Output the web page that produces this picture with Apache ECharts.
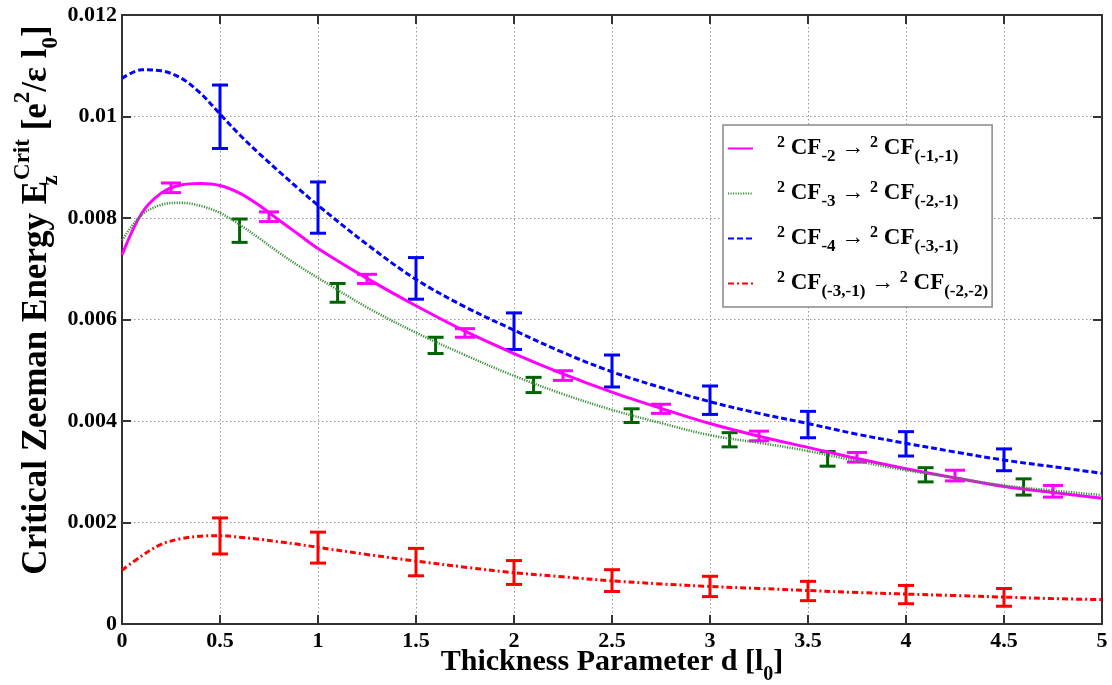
<!DOCTYPE html>
<html>
<head>
<meta charset="utf-8">
<script src="https://cdn.jsdelivr.net/npm/echarts@6/dist/echarts.min.js"></script>
<style>
  html, body { margin: 0; padding: 0; background: #fff; overflow: hidden; }
  #chart { width: 1112px; height: 685px; }
</style>
</head>
<body>
<div id="chart"></div>
<script>
// Thickness parameter d [l0] at which the model curves are sampled
const thickness = [0, 0.1, 0.2, 0.3, 0.4, 0.5, 0.6, 0.7, 0.8, 0.9, 1, 1.25, 1.5, 1.75, 2, 2.25, 2.5, 2.75, 3, 3.25, 3.5, 3.75, 4, 4.25, 4.5, 4.75, 5];

// Critical Zeeman energy curves [e^2/(eps l0)]
const curveCF2 = [0.00727, 0.00809, 0.00849, 0.00865, 0.00868, 0.00864, 0.00849, 0.00825, 0.00796, 0.00768, 0.00740, 0.00681, 0.00627, 0.00577, 0.00533, 0.00493, 0.00457, 0.00425, 0.00395, 0.00370, 0.00348, 0.00326, 0.00306, 0.00288, 0.00271, 0.00259, 0.00248];
const curveCF3 = [0.00756, 0.00806, 0.00826, 0.00830, 0.00824, 0.00810, 0.00787, 0.00760, 0.00732, 0.00706, 0.00682, 0.00624, 0.00574, 0.00530, 0.00489, 0.00453, 0.00422, 0.00396, 0.00372, 0.00357, 0.00341, 0.00321, 0.00303, 0.00288, 0.00273, 0.00263, 0.00254];
const curveCF4 = [0.01075, 0.01092, 0.01090, 0.01076, 0.01046, 0.01005, 0.00964, 0.00927, 0.00892, 0.00858, 0.00825, 0.00748, 0.00679, 0.00625, 0.00579, 0.00535, 0.00497, 0.00466, 0.00438, 0.00415, 0.00395, 0.00374, 0.00356, 0.00339, 0.00323, 0.00310, 0.00297];
const curveCF31 = [0.00106, 0.00134, 0.00157, 0.00168, 0.00173, 0.00174, 0.00171, 0.00167, 0.00162, 0.00157, 0.00151, 0.00137, 0.00124, 0.00112, 0.00101, 0.00093, 0.00085, 0.00079, 0.00074, 0.00070, 0.00066, 0.00062, 0.00059, 0.00056, 0.00053, 0.00050, 0.00048];

// Finite-size estimates with error ranges (d, lower, upper)
const errCF2X = [0.25, 0.75, 1.25, 1.75, 2.25, 2.75, 3.25, 3.75, 4.25, 4.75];
const errCF2Lo = [0.00850, 0.00793, 0.00671, 0.00565, 0.00480, 0.00415, 0.00361, 0.00319, 0.00282, 0.00250];
const errCF2Hi = [0.00869, 0.00812, 0.00689, 0.00582, 0.00499, 0.00433, 0.00380, 0.00338, 0.00303, 0.00273];

const errCF3X = [0.6, 1.1, 1.6, 2.1, 2.6, 3.1, 3.6, 4.1, 4.6];
const errCF3Lo = [0.00752, 0.00634, 0.00533, 0.00456, 0.00397, 0.00349, 0.00311, 0.00280, 0.00254];
const errCF3Hi = [0.00798, 0.00671, 0.00565, 0.00486, 0.00424, 0.00377, 0.00340, 0.00308, 0.00286];

const errCF4X = [0.5, 1, 1.5, 2, 2.5, 3, 3.5, 4, 4.5];
const errCF4Lo = [0.00937, 0.00770, 0.00640, 0.00541, 0.00467, 0.00413, 0.00367, 0.00331, 0.00302];
const errCF4Hi = [0.01062, 0.00871, 0.00722, 0.00613, 0.00530, 0.00469, 0.00419, 0.00379, 0.00345];

const errCF31X = [0.5, 1, 1.5, 2, 2.5, 3, 3.5, 4, 4.5];
const errCF31Lo = [0.00138, 0.00120, 0.00095, 0.00078, 0.00064, 0.00054, 0.00046, 0.00040, 0.00035];
const errCF31Hi = [0.00209, 0.00181, 0.00149, 0.00125, 0.00107, 0.00094, 0.00084, 0.00076, 0.00070];

// Axis tick labels
const xTickLabels = ['0', '0.5', '1', '1.5', '2', '2.5', '3', '3.5', '4', '4.5', '5'];
const yTickLabels = ['0', '0.002', '0.004', '0.006', '0.008', '0.01', '0.012'];

// Legend entries (rich-text markup for super/subscripts)
const seriesNames = ['CF-2', 'CF-3', 'CF-4', 'CF(-3,-1)'];
const legendLabels = [
  '{g| }{sup|2}{a| CF}{sub|-2}{a| → }{sup|2}{a| CF}{sub|(-1,-1)}',
  '{g| }{sup|2}{a| CF}{sub|-3}{a| → }{sup|2}{a| CF}{sub|(-2,-1)}',
  '{g| }{sup|2}{a| CF}{sub|-4}{a| → }{sup|2}{a| CF}{sub|(-3,-1)}',
  '{g| }{sup|2}{a| CF}{sub|(-3,-1)}{a| → }{sup|2}{a| CF}{sub|(-2,-2)}'
];

const FONT = 'Liberation Serif';
const AXIS_COLOR = '#333';

const pairs = (xs, ys) => xs.map((x, i) => [x, ys[i]]);
const triples = (xs, lo, hi) => xs.map((x, i) => [x, lo[i], hi[i]]);

function errorBars(name, xs, lo, hi, color, capHalf) {
  return {
    name: name + ' err',
    type: 'custom',
    data: triples(xs, lo, hi),
    encode: { x: 0, y: [1, 2] },
    z: 3,
    renderItem(params, api) {
      const x = api.value(0);
      const pLo = api.coord([x, api.value(1)]);
      const pHi = api.coord([x, api.value(2)]);
      const st = { stroke: color, lineWidth: 3, lineCap: 'butt' };
      return {
        type: 'group',
        children: [
          { type: 'line', shape: { x1: pLo[0], y1: pLo[1], x2: pHi[0], y2: pHi[1] }, style: st },
          { type: 'line', shape: { x1: pLo[0] - capHalf, y1: pLo[1], x2: pLo[0] + capHalf, y2: pLo[1] }, style: st },
          { type: 'line', shape: { x1: pHi[0] - capHalf, y1: pHi[1], x2: pHi[0] + capHalf, y2: pHi[1] }, style: st }
        ]
      };
    }
  };
}

function curve(name, ys, color, width, dash) {
  return {
    name: name,
    type: 'line',
    data: pairs(thickness, ys),
    smooth: 0.35,
    symbol: 'none',
    showSymbol: false,
    z: 4,
    lineStyle: { color: color, width: width, type: dash },
    itemStyle: { color: color }
  };
}

const txt = { fontFamily: FONT, fontWeight: 'bold', color: '#000' };

const frameAxis = {
  axisLine: { show: true, onZero: false, lineStyle: { color: AXIS_COLOR, width: 2 } },
  axisTick: { show: true, inside: true, length: 9, lineStyle: { color: AXIS_COLOR, width: 2 } }
};

const chart = echarts.init(document.getElementById('chart'), null, { renderer: 'canvas' });

chart.setOption({
  animation: false,
  backgroundColor: '#fff',
  grid: { left: 122, right: 10, top: 15, bottom: 61, containLabel: false, outerBoundsMode: 'none' },
  legend: {
    data: seriesNames,
    orient: 'vertical',
    left: 723,
    top: 125,
    padding: [7, 4, 7, 4],
    itemGap: 12,
    itemWidth: 25,
    itemHeight: 14,
    selectedMode: false,
    backgroundColor: '#fff',
    borderColor: '#888',
    borderWidth: 1.5,
    borderRadius: 0,
    itemStyle: { opacity: 0, borderWidth: 0 },
    formatter: (name) => legendLabels[seriesNames.indexOf(name)],
    textStyle: {
      ...txt,
      rich: {
        g: { width: 19, fontSize: 10 },
        a: { ...txt, fontSize: 23, lineHeight: 40 },
        sup: { ...txt, fontSize: 16, lineHeight: 12, padding: [0, 0, 12, 0] },
        sub: { ...txt, fontSize: 17, lineHeight: 12, padding: [16, 0, 0, 0] }
      }
    }
  },
  xAxis: [
    {
      type: 'value', min: 0, max: 5, interval: 0.5, position: 'bottom',
      ...frameAxis,
      axisLabel: { ...txt, fontSize: 22, margin: 6, formatter: (v) => xTickLabels[Math.round(v / 0.5)] },
      splitLine: { show: true, lineStyle: { color: '#999', width: 1, type: [1.5, 2.5] } },
      name: '{a|Thickness Parameter d [l}{sub|0}{a|]}',
      nameLocation: 'middle',
      nameGap: 18,
      nameMoveOverlap: false,
      nameTextStyle: {
        ...txt,
        rich: {
          a: { ...txt, fontSize: 30, lineHeight: 40 },
          sub: { ...txt, fontSize: 20, lineHeight: 12, padding: [26, 0, 0, 0] }
        }
      }
    },
    {
      type: 'value', min: 0, max: 5, interval: 0.5, position: 'top',
      ...frameAxis,
      axisLabel: { show: false },
      splitLine: { show: false }
    }
  ],
  yAxis: [
    {
      type: 'value', min: 0, max: 0.012, interval: 0.002, position: 'left',
      ...frameAxis,
      axisLabel: { ...txt, fontSize: 22, margin: 5, formatter: (v) => yTickLabels[Math.round(v / 0.002)] },
      splitLine: { show: true, lineStyle: { color: '#999', width: 1, type: [1.5, 2.5] } },
      name: '{a|Critical Zeeman Energy E}{zs|z}{cs|Crit}{a| [e}{sup|2}{a|/ε l}{sub|0}{a|]}',
      nameLocation: 'middle',
      nameRotate: 90,
      nameGap: 64,
      nameMoveOverlap: false,
      nameTextStyle: {
        ...txt,
        padding: [0, 0, 0, 39],
        rich: {
          a: { ...txt, fontSize: 35, lineHeight: 42 },
          zs: { ...txt, fontSize: 23, lineHeight: 16, width: 1, padding: [28, 0, 0, 0] },
          cs: { ...txt, fontSize: 23, lineHeight: 16, padding: [0, 0, 28, 0] },
          sup: { ...txt, fontSize: 23, lineHeight: 16, padding: [0, 0, 28, 0] },
          sub: { ...txt, fontSize: 23, lineHeight: 16, padding: [28, 0, 0, 0] }
        }
      }
    },
    {
      type: 'value', min: 0, max: 0.012, interval: 0.002, position: 'right',
      ...frameAxis,
      axisLabel: { show: false },
      splitLine: { show: false }
    }
  ],
  series: [
    errorBars(seriesNames[3], errCF31X, errCF31Lo, errCF31Hi, '#ff0000', 8),
    errorBars(seriesNames[2], errCF4X, errCF4Lo, errCF4Hi, '#0000ff', 8),
    errorBars(seriesNames[1], errCF3X, errCF3Lo, errCF3Hi, '#006400', 8),
    errorBars(seriesNames[0], errCF2X, errCF2Lo, errCF2Hi, '#ff00ff', 10),
    curve(seriesNames[0], curveCF2, '#ff00ff', 3, 'solid'),
    curve(seriesNames[1], curveCF3, '#3a8f3a', 2.5, [1.2, 1.3]),
    curve(seriesNames[2], curveCF4, '#0000ff', 3, [6, 3]),
    curve(seriesNames[3], curveCF31, '#ff0000', 3, [6, 3, 2, 3])
  ]
});
</script>
</body>
</html>
